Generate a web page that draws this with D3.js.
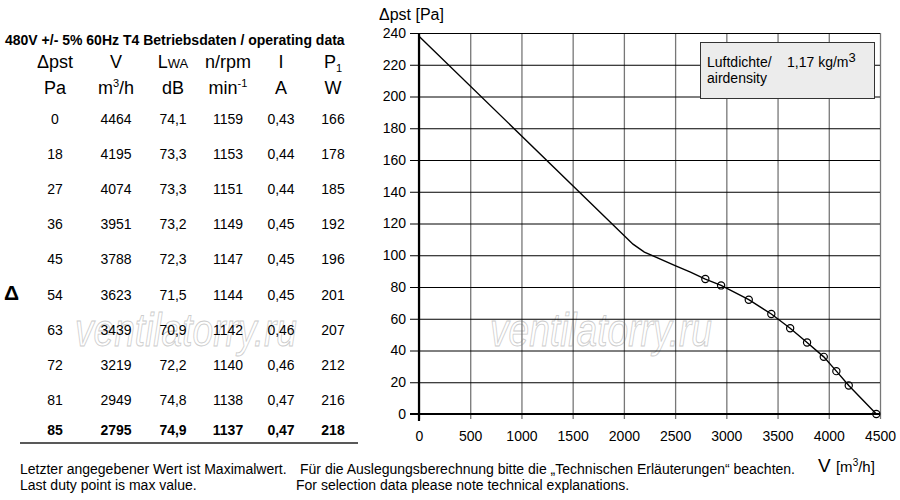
<!DOCTYPE html>
<html>
<head>
<meta charset="utf-8">
<script src="https://cdn.jsdelivr.net/npm/d3@7"></script>
<style>
  body { margin: 0; background: #fff; }
  svg { display: block; }
</style>
</head>
<body>
<script>
// operating data table
const pst = [0, 18, 27, 36, 45, 54, 63, 72, 81, 85];
const flow = [4464, 4195, 4074, 3951, 3788, 3623, 3439, 3219, 2949, 2795];
const lwa = [74.1, 73.3, 73.3, 73.2, 72.3, 71.5, 70.9, 72.2, 74.8, 74.9];
const rpm = [1159, 1153, 1151, 1149, 1147, 1144, 1142, 1140, 1138, 1137];
const amps = [0.43, 0.44, 0.44, 0.45, 0.45, 0.45, 0.46, 0.46, 0.47, 0.47];
const watts = [166, 178, 185, 192, 196, 201, 207, 212, 216, 218];

// fan curve left of the last duty point
const curveFlow = [0, 2089, 2200, 2500, 2650];
const curvePst = [238, 107, 102, 93.5, 89.4];

const xTicks = [0, 500, 1000, 1500, 2000, 2500, 3000, 3500, 4000, 4500];
const yTicks = [0, 20, 40, 60, 80, 100, 120, 140, 160, 180, 200, 220, 240];

const font = "'Liberation Sans', Arial, Helvetica, sans-serif";
const comma = v => String(v).replace(".", ",");

let svg = d3.select("body").append("svg")
  .attr("width", 900)
  .attr("height", 500)
  .style("font-family", font);

svg.append("rect").attr("width", 900).attr("height", 500).attr("fill", "#fff");

let x = d3.scaleLinear().domain([0, 4500]).range([419, 880]);
let y = d3.scaleLinear().domain([0, 240]).range([414, 33]);

// watermark (outlined, behind everything)
[75, 490].forEach(wx => {
  svg.append("text")
    .attr("x", wx).attr("y", 346)
    .attr("textLength", 222).attr("lengthAdjust", "spacingAndGlyphs")
    .style("font-size", "46px").style("font-style", "italic")
    .attr("fill", "none").attr("stroke", "#cccccc").attr("stroke-width", 0.9)
    .text("ventilatorry.ru");
});

// vertical grid + x labels
svg.append("g")
  .attr("transform", "translate(0," + 419 + ")")
  .call(d3.axisBottom(x).tickValues(xTicks).tickSize(-(419 - y(240))).tickPadding(12).tickFormat(d3.format("d")))
  .call(g => g.select(".domain").remove())
  .call(g => g.selectAll(".tick line").attr("stroke", "#777").attr("stroke-width", 1.3))
  .call(g => g.selectAll(".tick text").attr("fill", "#000").style("font-size", "14px").style("font-family", font));

// horizontal grid + y labels
svg.append("g")
  .attr("transform", "translate(" + 410 + ",0)")
  .call(d3.axisLeft(y).tickValues(yTicks).tickSize(-(x(4500) - 410)).tickPadding(4))
  .call(g => g.select(".domain").remove())
  .call(g => g.selectAll(".tick line").attr("stroke", "#000").attr("stroke-width", 1))
  .call(g => g.selectAll(".tick text").attr("fill", "#000").style("font-size", "14px").style("font-family", font));

// heavy axis lines
svg.append("line")
  .attr("x1", x(0)).attr("x2", x(0))
  .attr("y1", y(240)).attr("y2", 421)
  .attr("stroke", "#000").attr("stroke-width", 2.2);
svg.append("line")
  .attr("x1", 410).attr("x2", x(4500))
  .attr("y1", y(0)).attr("y2", y(0))
  .attr("stroke", "#000").attr("stroke-width", 2.2);

// legend box
svg.append("rect")
  .attr("x", 700.5).attr("y", 42.5)
  .attr("width", 174).attr("height", 56)
  .attr("fill", "#ececec").attr("stroke", "#333").attr("stroke-width", 1);
svg.append("text").attr("x", 707).attr("y", 67).style("font-size", "14px").text("Luftdichte/");
let dens = svg.append("text").attr("x", 787).attr("y", 67).style("font-size", "14px");
dens.append("tspan").text("1,17 kg/m");
dens.append("tspan").attr("dy", -5).style("font-size", "13px").text("3");
svg.append("text").attr("x", 707).attr("y", 83).style("font-size", "14px").text("airdensity");

// curve
let pts = curveFlow.map((v, i) => [v, curvePst[i]])
  .concat(flow.map((v, i) => [v, pst[i]]).sort((a, b) => a[0] - b[0]));
svg.append("path")
  .datum(pts)
  .attr("d", d3.line().x(d => x(d[0])).y(d => y(d[1])))
  .attr("fill", "none")
  .attr("stroke", "#000")
  .attr("stroke-width", 1.4);

svg.selectAll(".duty")
  .data(flow)
  .enter()
  .append("circle")
  .attr("cx", d => x(d))
  .attr("cy", (d, i) => y(pst[i]))
  .attr("r", 3.6)
  .attr("fill", "none")
  .attr("stroke", "#000")
  .attr("stroke-width", 1.2);

// axis titles
svg.append("text").attr("x", 379).attr("y", 20).style("font-size", "16px").text("\u0394pst [Pa]");
let xt = svg.append("text").attr("x", 818).attr("y", 472);
xt.append("tspan").style("font-size", "19px").text("V ");
xt.append("tspan").style("font-size", "15px").text("[m");
xt.append("tspan").style("font-size", "10px").attr("dy", -6).text("3");
xt.append("tspan").style("font-size", "15px").attr("dy", 6).text("/h]");

// table
svg.append("text")
  .attr("x", 5).attr("y", 45)
  .style("font-size", "14px").style("font-weight", "bold")
  .text("480V +/- 5% 60Hz T4 Betriebsdaten / operating data");

let cols = [55, 116, 173, 228, 281, 333];

function head(cx, yy, parts) {
  let t = svg.append("text").attr("x", cx).attr("y", yy).attr("text-anchor", "middle").style("font-size", "18px");
  parts.forEach(p => {
    let s = t.append("tspan").text(p[0]);
    if (p[1]) s.style("font-size", p[1]);
    if (p[2]) s.attr("dy", p[2]);
  });
}
head(cols[0], 68, [["\u0394pst"]]);
head(cols[1], 68, [["V"]]);
head(cols[2], 68, [["L"], ["WA", "13px"]]);
head(cols[3], 68, [["n/rpm"]]);
head(cols[4], 68, [["I"]]);
head(cols[5], 68, [["P"], ["1", "11px", 4]]);
head(cols[0], 94, [["Pa"]]);
head(cols[1], 94, [["m"], ["3", "11px", -7], ["/h", null, 7]]);
head(cols[2], 94, [["dB"]]);
head(cols[3], 94, [["min"], ["-1", "11px", -7]]);
head(cols[4], 94, [["A"]]);
head(cols[5], 94, [["W"]]);

let rowY = i => (i < 9 ? 124 + i * 35.1 : 435);
let table = [pst, flow, lwa.map(v => comma(v.toFixed(1))), rpm, amps.map(v => comma(v.toFixed(2))), watts];
table.forEach((col, c) => {
  svg.selectAll(".c" + c)
    .data(col)
    .enter()
    .append("text")
    .attr("x", cols[c])
    .attr("y", (d, i) => rowY(i))
    .attr("text-anchor", "middle")
    .style("font-size", "14px")
    .style("font-weight", (d, i) => (i === col.length - 1 ? "bold" : "normal"))
    .text(d => d);
});

svg.append("line")
  .attr("x1", 20).attr("x2", 358)
  .attr("y1", 443).attr("y2", 443)
  .attr("stroke", "#222").attr("stroke-width", 1.5);

svg.append("text")
  .attr("x", 4).attr("y", 300)
  .style("font-size", "21px").style("font-weight", "bold")
  .text("\u0394");

// footnotes
let notes = [
  [20, 474, "Letzter angegebener Wert ist Maximalwert."],
  [20, 490, "Last duty point is max value."],
  [300, 474, "F\u00fcr die Auslegungsberechnung bitte die \u201eTechnischen Erl\u00e4uterungen\u201c beachten."],
  [296, 490, "For selection data please note technical explanations."]
];
notes.forEach(n => {
  svg.append("text").attr("x", n[0]).attr("y", n[1]).style("font-size", "14px").text(n[2]);
});
</script>
</body>
</html>
